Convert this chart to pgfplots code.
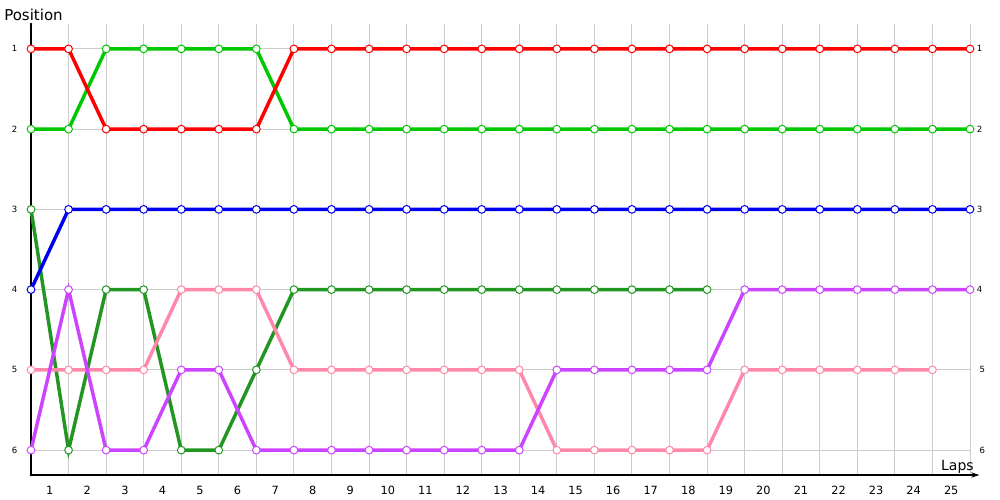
\documentclass[border=0pt]{standalone}
\usepackage{fontspec}
\setmainfont{DejaVu Sans}
\usepackage{pgfplots}
\pgfplotsset{compat=1.18}
\usetikzlibrary{arrows.meta}
\definecolor{cRed}{RGB}{255,0,0}
\definecolor{cGreen}{RGB}{0,200,0}
\definecolor{cBlue}{RGB}{0,0,240}
\definecolor{cDark}{RGB}{34,150,34}
\definecolor{cPink}{RGB}{255,136,170}
\definecolor{cPurple}{RGB}{204,68,255}
\definecolor{cGrid}{RGB}{204,204,204}
\pgfplotsset{
  ser/.style={color=#1, line width=2.6pt, mark=*, mark size=2.9pt,
    mark options={fill=white, draw=#1, line width=0.75pt, solid}},
}
\begin{document}
\begin{tikzpicture}
\useasboundingbox (0,0) rectangle (750pt,375pt);
\begin{axis}[
  at={(23.25pt,18.75pt)}, anchor=south west,
  scale only axis, width=704.25pt, height=338.25pt,
  xmin=0, xmax=25, ymin=0.69, ymax=6.31, y dir=reverse,
  axis line style={draw=none},
  clip=false,
  xtick={0.5,1.5,...,24.5},
  xticklabels={1,2,3,4,5,6,7,8,9,10,11,12,13,14,15,16,17,18,19,20,21,22,23,24,25},
  minor xtick={0,1,...,25},
  xminorgrids=true, xmajorgrids=false,
  ytick={1,2,3,4,5,6},
  yticklabels={1,2,3,4,5,6},
  ymajorgrids=true,
  major tick length=0pt, minor tick length=0pt,
  grid style={cGrid, line width=0.75pt},
  minor grid style={cGrid, line width=0.75pt},
  xticklabel style={font=\fontsize{8.5}{10}\selectfont, inner sep=0pt, yshift=-8pt},
  yticklabel style={font=\fontsize{6.4}{8}\selectfont, inner sep=0pt, xshift=-10pt},
  /pgf/number format/assume math mode=true,
]
\draw[black, line width=0.9pt] (axis cs:0,6.31) -- (axis cs:0,0.69);
\draw[black, line width=0.9pt, -{Stealth[length=6pt, width=4pt]}] (axis cs:0,6.31) -- ([xshift=7pt]axis cs:25,6.31);
\fill (axis cs:0,0.69) circle (1.1pt);
\fill (axis cs:0,6.31) circle (1.1pt);

\addplot[ser=cDark] coordinates {(0,3)(1,6)(2,4)(3,4)(4,6)(5,6)(6,5)(7,4)(8,4)(9,4)(10,4)(11,4)(12,4)(13,4)(14,4)(15,4)(16,4)(17,4)(18,4)};
\addplot[ser=cPink] coordinates {(0,5)(1,5)(2,5)(3,5)(4,4)(5,4)(6,4)(7,5)(8,5)(9,5)(10,5)(11,5)(12,5)(13,5)(14,6)(15,6)(16,6)(17,6)(18,6)(19,5)(20,5)(21,5)(22,5)(23,5)(24,5)};
\addplot[ser=cPurple] coordinates {(0,6)(1,4)(2,6)(3,6)(4,5)(5,5)(6,6)(7,6)(8,6)(9,6)(10,6)(11,6)(12,6)(13,6)(14,5)(15,5)(16,5)(17,5)(18,5)(19,4)(20,4)(21,4)(22,4)(23,4)(24,4)(25,4)};
\addplot[ser=cBlue] coordinates {(0,4)(1,3)(2,3)(3,3)(4,3)(5,3)(6,3)(7,3)(8,3)(9,3)(10,3)(11,3)(12,3)(13,3)(14,3)(15,3)(16,3)(17,3)(18,3)(19,3)(20,3)(21,3)(22,3)(23,3)(24,3)(25,3)};
\addplot[ser=cGreen] coordinates {(0,2)(1,2)(2,1)(3,1)(4,1)(5,1)(6,1)(7,2)(8,2)(9,2)(10,2)(11,2)(12,2)(13,2)(14,2)(15,2)(16,2)(17,2)(18,2)(19,2)(20,2)(21,2)(22,2)(23,2)(24,2)(25,2)};
\addplot[ser=cRed] coordinates {(0,1)(1,1)(2,2)(3,2)(4,2)(5,2)(6,2)(7,1)(8,1)(9,1)(10,1)(11,1)(12,1)(13,1)(14,1)(15,1)(16,1)(17,1)(18,1)(19,1)(20,1)(21,1)(22,1)(23,1)(24,1)(25,1)};

\node[anchor=west, inner sep=0pt, font=\fontsize{6.4}{8}\selectfont] at ([xshift=5pt]axis cs:25,1) {1};
\node[anchor=west, inner sep=0pt, font=\fontsize{6.4}{8}\selectfont] at ([xshift=5pt]axis cs:25,2) {2};
\node[anchor=west, inner sep=0pt, font=\fontsize{6.4}{8}\selectfont] at ([xshift=5pt]axis cs:25,3) {3};
\node[anchor=west, inner sep=0pt, font=\fontsize{6.4}{8}\selectfont] at ([xshift=5pt]axis cs:25,4) {4};
\node[anchor=west, inner sep=0pt, font=\fontsize{6.4}{8}\selectfont] at ([xshift=7pt]axis cs:25,5) {5};
\node[anchor=west, inner sep=0pt, font=\fontsize{6.4}{8}\selectfont] at ([xshift=7pt]axis cs:25,6) {6};
\end{axis}
\node[anchor=base west, inner sep=0pt, font=\fontsize{11.25}{13}\selectfont] at (3pt,359.25pt) {Position};
\node[anchor=base east, inner sep=0pt, font=\fontsize{10.5}{13}\selectfont] at (730.5pt,22.5pt) {Laps};
\end{tikzpicture}
\end{document}
